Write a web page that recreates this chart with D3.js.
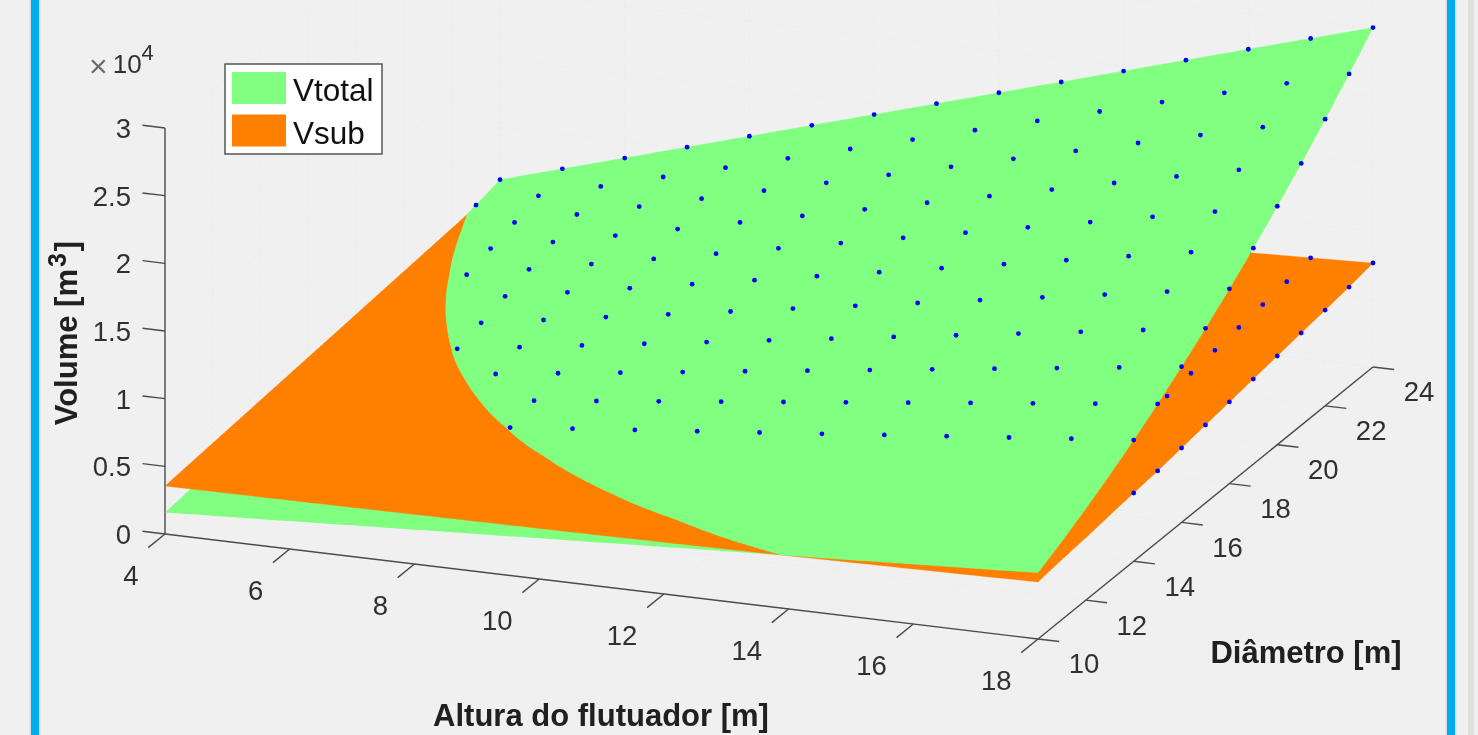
<!DOCTYPE html>
<html>
<head>
<meta charset="utf-8">
<script src="https://cdn.jsdelivr.net/npm/d3@7"></script>
<style>
  html, body { margin: 0; padding: 0; background: #f0f0f0; overflow: hidden; }
  text { font-family: "Liberation Sans", Arial, sans-serif; }
  svg { display: block; filter: blur(0.5px); }
</style>
</head>
<body>
<script>
const w = 1478;
const h = 735;

const alturas = [4, 5, 6, 7, 8, 9, 10, 11, 12, 13, 14, 15, 16, 17, 18];
const diametros = [10, 11, 12, 13, 14, 15, 16, 17, 18, 19, 20, 21, 22, 23, 24];

// one row per diametro, one column per altura
const vtotal = [
  [1590, 1830, 2060, 2300, 2540, 2770, 3010, 3240, 3480, 3710, 3950, 4180, 4420, 4660, 4890],
  [1790, 2080, 2360, 2650, 2930, 3220, 3500, 3790, 4070, 4360, 4640, 4930, 5210, 5500, 5780],
  [2010, 2350, 2690, 3030, 3360, 3700, 4040, 4380, 4720, 5060, 5400, 5740, 6080, 6420, 6760],
  [2240, 2640, 3040, 3440, 3840, 4230, 4630, 5030, 5430, 5830, 6230, 6620, 7020, 7420, 7820],
  [2500, 2960, 3420, 3880, 4340, 4810, 5270, 5730, 6190, 6650, 7120, 7580, 8040, 8500, 8960],
  [2770, 3300, 3830, 4360, 4890, 5420, 5950, 6480, 7010, 7540, 8070, 8600, 9130, 9660, 10190],
  [3060, 3670, 4270, 4870, 5480, 6080, 6680, 7290, 7890, 8490, 9100, 9700, 10300, 10900, 11510],
  [3370, 4060, 4740, 5420, 6100, 6780, 7460, 8140, 8820, 9500, 10180, 10860, 11540, 12230, 12910],
  [3700, 4470, 5230, 5990, 6760, 7520, 8280, 9050, 9810, 10570, 11340, 12100, 12860, 13630, 14390],
  [4050, 4900, 5750, 6600, 7460, 8310, 9160, 10010, 10860, 11710, 12560, 13410, 14260, 15110, 15960],
  [4420, 5360, 6310, 7250, 8190, 9130, 10080, 11020, 11960, 12900, 13850, 14790, 15730, 16670, 17620],
  [4810, 5850, 6890, 7920, 8960, 10000, 11040, 12080, 13120, 14160, 15200, 16240, 17280, 18320, 19350],
  [5210, 6350, 7490, 8630, 9770, 10910, 12050, 13190, 14340, 15480, 16620, 17760, 18900, 20040, 21180],
  [5640, 6880, 8130, 9380, 10620, 11870, 13110, 14360, 15610, 16850, 18100, 19350, 20590, 21840, 23090],
  [6080, 7440, 8790, 10150, 11510, 12870, 14220, 15580, 16940, 18290, 19650, 21010, 22370, 23720, 25080]
];
const vsub = [
  [3546, 3573, 3601, 3628, 3665, 3703, 3740, 3777, 3824, 3872, 3929, 3996, 4064, 4131, 4212],
  [3700, 3732, 3765, 3797, 3840, 3882, 3924, 3967, 4019, 4072, 4134, 4206, 4279, 4351, 4433],
  [3850, 3865, 3890, 3925, 3970, 4025, 4079, 4134, 4189, 4244, 4309, 4384, 4459, 4534, 4618],
  [4005, 4025, 4054, 4094, 4143, 4203, 4263, 4322, 4382, 4441, 4511, 4591, 4670, 4750, 4840],
  [4160, 4183, 4217, 4260, 4314, 4377, 4440, 4504, 4567, 4631, 4704, 4787, 4871, 4954, 5047],
  [4310, 4336, 4373, 4419, 4475, 4542, 4608, 4675, 4741, 4807, 4884, 4970, 5057, 5143, 5239],
  [4465, 4490, 4513, 4586, 4660, 4734, 4808, 4882, 4955, 5029, 5113, 5207, 5301, 5394, 5498],
  [4620, 4640, 4683, 4765, 4847, 4929, 5010, 5092, 5174, 5255, 5347, 5449, 5550, 5652, 5764],
  [4770, 4780, 4850, 4940, 5030, 5120, 5210, 5300, 5390, 5480, 5580, 5690, 5800, 5910, 6030],
  [4925, 4942, 5020, 5117, 5215, 5312, 5409, 5507, 5604, 5702, 5809, 5926, 6044, 6161, 6288],
  [5080, 5105, 5191, 5296, 5401, 5507, 5612, 5717, 5822, 5928, 6043, 6168, 6294, 6419, 6554],
  [5230, 5264, 5357, 5471, 5584, 5698, 5812, 5925, 6039, 6152, 6276, 6410, 6543, 6677, 6820],
  [5385, 5426, 5527, 5648, 5769, 5890, 6011, 6132, 6253, 6374, 6505, 6646, 6787, 6928, 7079],
  [5540, 5589, 5698, 5827, 5956, 6085, 6213, 6342, 6471, 6600, 6739, 6888, 7037, 7186, 7345],
  [5690, 5753, 5875, 6018, 6160, 6303, 6445, 6588, 6730, 6873, 7025, 7188, 7350, 7513, 7685]
];

// first altura with a sampled point, per diametro (nothing below 14 m)
const pontosDiametro = [14, 15, 16, 17, 18, 19, 20, 21, 22, 23, 24];
const pontosInicio = [8, 8, 7, 6, 6, 6, 5, 5, 5, 4, 4];

const alturaTicks = [4, 6, 8, 10, 12, 14, 16, 18];
const diametroTicks = [10, 12, 14, 16, 18, 20, 22, 24];
const volumeTicks = [0, 5000, 10000, 15000, 20000, 25000, 30000];
const volumeLabels = ["0", "0.5", "1", "1.5", "2", "2.5", "3"];

const legendNames = ["Vtotal", "Vsub"];
const legendColors = ["#80ff80", "#ff8000"];

const originX = 165;
const originY = 534;

// oblique view: every data axis moves the screen point in x and in y
const altX = d3.scaleLinear().domain([4, 18]).range([0, 873]);
const altY = d3.scaleLinear().domain([4, 18]).range([0, 105]);
const diaX = d3.scaleLinear().domain([10, 24]).range([0, 335]);
const diaY = d3.scaleLinear().domain([10, 24]).range([0, -272]);
const volY = d3.scaleLinear().domain([0, 30000]).range([0, -406]);

const project = (a, d, v) => [
  originX + altX(a) + diaX(d),
  originY + altY(a) + diaY(d) + volY(v)
];

const svg = d3.select("body").append("svg")
  .attr("width", w)
  .attr("height", h);

// window frame
function frameBar(x, width, color) {
  svg.append("rect").attr("x", x).attr("y", 0)
    .attr("width", width).attr("height", h).attr("fill", color);
}
frameBar(29.5, 11, "#dcdcdc");
frameBar(1445.5, 11, "#dcdcdc");
frameBar(31, 8, "#00aeef");
frameBar(1447, 8, "#00aeef");
frameBar(1468, 6, "#e0e0e0");

// back walls and floor grid
const grid = svg.append("g")
  .attr("fill", "none")
  .attr("stroke", "#ebebeb")
  .attr("stroke-dasharray", "3 3");
function gridLine(p, q) {
  grid.append("line")
    .attr("x1", p[0]).attr("y1", p[1])
    .attr("x2", q[0]).attr("y2", q[1]);
}
alturaTicks.forEach(a => {
  gridLine(project(a, 10, 0), project(a, 24, 0));
  gridLine(project(a, 24, 0), project(a, 24, 30000));
});
diametroTicks.forEach(d => {
  gridLine(project(4, d, 0), project(18, d, 0));
  gridLine(project(4, d, 0), project(4, d, 30000));
});
volumeTicks.forEach(v => {
  gridLine(project(4, 10, v), project(4, 24, v));
  gridLine(project(4, 24, v), project(18, 24, v));
});

// axes
const axes = svg.append("g")
  .attr("fill", "none")
  .attr("stroke", "#4a4a4a")
  .attr("stroke-width", 1.4);
function axisLine(p, q) {
  axes.append("line")
    .attr("x1", p[0]).attr("y1", p[1])
    .attr("x2", q[0]).attr("y2", q[1]);
}
axisLine(project(4, 10, 0), project(4, 10, 30000));
axisLine(project(4, 10, 0), project(18, 10, 0));
axisLine(project(18, 10, 0), project(18, 24, 0));

// ticks point along the other axes of the box
alturaTicks.forEach(a => axisLine(project(a, 10, 0), project(a, 9.3, 0)));
diametroTicks.forEach(d => axisLine(project(18, d, 0), project(18.34, d, 0)));
volumeTicks.forEach(v => axisLine(project(4, 10, v), project(3.64, 10, v)));

const tickText = svg.append("g")
  .attr("font-size", 27.5)
  .attr("fill", "#303030");

alturaTicks.forEach(a => {
  const p = project(a, 10, 0);
  tickText.append("text")
    .attr("x", p[0] - 26.5).attr("y", p[1] + 41)
    .attr("dy", ".36em")
    .attr("text-anchor", "end")
    .text(a);
});
diametroTicks.forEach(d => {
  const p = project(18, d, 0);
  tickText.append("text")
    .attr("x", p[0] + 46).attr("y", p[1] + 24.5)
    .attr("dy", ".36em")
    .attr("text-anchor", "middle")
    .text(d);
});
volumeTicks.forEach((v, i) => {
  const p = project(4, 10, v);
  tickText.append("text")
    .attr("x", 131).attr("y", p[1])
    .attr("dy", ".36em")
    .attr("text-anchor", "end")
    .text(volumeLabels[i]);
});

// x 10^4 above the volume axis
const expo = svg.append("text")
  .attr("x", 89).attr("y", 73)
  .attr("font-size", 26)
  .attr("fill", "#303030");
expo.append("tspan").attr("font-size", 32).attr("dy", 4).attr("fill", "#6a6a6a").text("\u00d7");
expo.append("tspan").attr("dx", 5).attr("dy", -4).text("10");
expo.append("tspan").attr("font-size", 22).attr("dy", -13).text("4");

// axis labels
const ylab = svg.append("text")
  .attr("transform", "translate(77,333) rotate(-90)")
  .attr("text-anchor", "middle")
  .attr("font-size", 31)
  .attr("font-weight", "bold")
  .attr("fill", "#202020");
ylab.append("tspan").text("Volume [m");
ylab.append("tspan").attr("font-size", 25).attr("dx", 2).attr("dy", -11).text("3");
ylab.append("tspan").attr("dx", 2).attr("dy", 11).text("]");

svg.append("text")
  .attr("x", 601).attr("y", 726)
  .attr("text-anchor", "middle")
  .attr("font-size", 31)
  .attr("font-weight", "bold")
  .attr("fill", "#202020")
  .text("Altura do flutuador [m]");

svg.append("text")
  .attr("x", 1306).attr("y", 663)
  .attr("text-anchor", "middle")
  .attr("font-size", 31)
  .attr("font-weight", "bold")
  .attr("fill", "#202020")
  .text("Di\u00e2metro [m]");

// cut every mesh triangle on the line where the two surfaces meet
function clipTriangle(tri, sign) {
  const out = [];
  tri.forEach((p, i) => {
    const q = tri[(i + 1) % tri.length];
    const dp = sign * (p.g - p.o);
    const dq = sign * (q.g - q.o);
    if (dp >= 0) out.push(p);
    if ((dp >= 0) !== (dq >= 0)) {
      const t = dp / (dp - dq);
      out.push({
        a: p.a + t * (q.a - p.a),
        d: p.d + t * (q.d - p.d),
        g: p.g + t * (q.g - p.g),
        o: p.o + t * (q.o - p.o)
      });
    }
  });
  return out;
}

// each mesh cell is shaded as a bilinear patch, a few facets per side
const facets = 6;
const polygon = d3.line();
function cellPoint(i, j, u, v) {
  const mix = t =>
    (1 - u) * (1 - v) * t[i][j] + u * (1 - v) * t[i][j + 1] +
    (1 - u) * v * t[i + 1][j] + u * v * t[i + 1][j + 1];
  return {
    a: alturas[j] + u * (alturas[j + 1] - alturas[j]),
    d: diametros[i] + v * (diametros[i + 1] - diametros[i]),
    g: mix(vtotal),
    o: mix(vsub)
  };
}

let greenBelow = "";
let greenAbove = "";
let orange = "";
for (let i = 0; i < diametros.length - 1; i++) {
  for (let j = 0; j < alturas.length - 1; j++) {
    for (let m = 0; m < facets; m++) {
      for (let n = 0; n < facets; n++) {
        const n00 = cellPoint(i, j, n / facets, m / facets);
        const n01 = cellPoint(i, j, (n + 1) / facets, m / facets);
        const n10 = cellPoint(i, j, n / facets, (m + 1) / facets);
        const n11 = cellPoint(i, j, (n + 1) / facets, (m + 1) / facets);
        orange += polygon([n00, n01, n11, n10].map(p => project(p.a, p.d, p.o))) + "Z";
        [[n00, n01, n11], [n00, n11, n10]].forEach(tri => {
          const up = clipTriangle(tri, 1);
          const down = clipTriangle(tri, -1);
          if (up.length > 2) greenAbove += polygon(up.map(p => project(p.a, p.d, p.g))) + "Z";
          if (down.length > 2) greenBelow += polygon(down.map(p => project(p.a, p.d, p.g))) + "Z";
        });
      }
    }
  }
}

const pontos = [];
pontosDiametro.forEach((d, k) => {
  alturas.filter(a => a >= pontosInicio[k]).forEach(a => {
    pontos.push({ a: a, d: d, g: vtotal[d - 10][a - 4], o: vsub[d - 10][a - 4] });
  });
});

svg.append("path").attr("d", greenBelow).attr("fill", legendColors[0]);
svg.append("path").attr("d", orange).attr("fill", legendColors[1])
  .attr("stroke", legendColors[1]).attr("stroke-width", 0.3);

svg.append("g").selectAll("circle").data(pontos).enter().append("circle")
  .attr("cx", p => project(p.a, p.d, p.o)[0])
  .attr("cy", p => project(p.a, p.d, p.o)[1])
  .attr("r", 2.4)
  .attr("fill", "#0000ff");

svg.append("path").attr("d", greenAbove).attr("fill", legendColors[0])
  .attr("stroke", legendColors[0]).attr("stroke-width", 0.3);

svg.append("g").selectAll("circle").data(pontos).enter().append("circle")
  .attr("cx", p => project(p.a, p.d, p.g)[0])
  .attr("cy", p => project(p.a, p.d, p.g)[1])
  .attr("r", 2.4)
  .attr("fill", "#0000ff");

// legend
const legend = svg.append("g");
legend.append("rect")
  .attr("x", 225).attr("y", 64)
  .attr("width", 157).attr("height", 90)
  .attr("fill", "#fff")
  .attr("stroke", "#555")
  .attr("stroke-width", 1.5);
legendNames.forEach((name, i) => {
  legend.append("rect")
    .attr("x", 232).attr("y", 72 + i * 42.5)
    .attr("width", 54).attr("height", 32)
    .attr("fill", legendColors[i]);
  legend.append("text")
    .attr("x", 293).attr("y", 101 + i * 42.5)
    .attr("font-size", 31.5)
    .attr("fill", "#111")
    .text(name);
});
</script>
</body>
</html>
